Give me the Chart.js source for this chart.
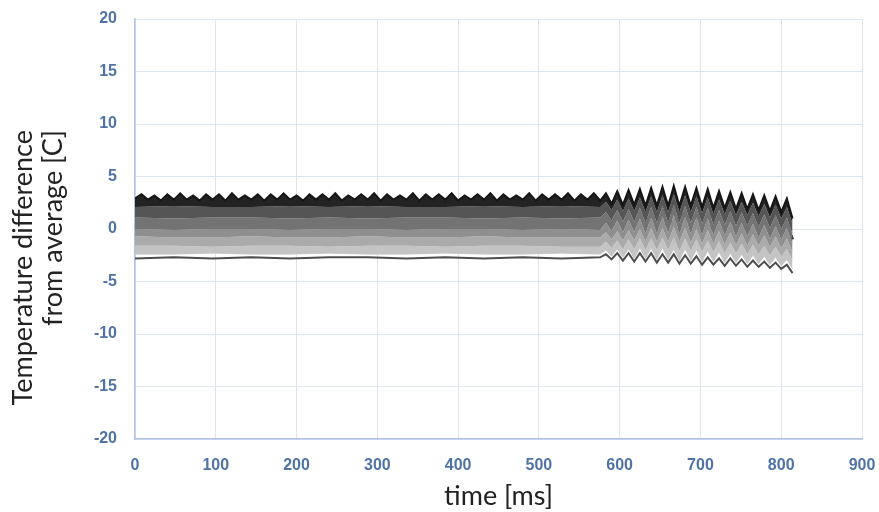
<!DOCTYPE html>
<html>
<head>
<meta charset="utf-8">
<script src="https://cdn.jsdelivr.net/npm/chart.js@4.4.1/dist/chart.umd.min.js"></script>
<style>
    html, body { margin: 0; padding: 0; background: #fff; }
    #wrap { width: 879px; height: 512px; }
</style>
</head>
<body>
<div id="wrap"><canvas id="tempChart" width="879" height="512"></canvas></div>
<script>
// time axis samples [ms]
const tFine = [0,8,16,24,32,40,48,56,64,72,80,88,96,104,112,120,128,136,144,152,160,168,176,184,192,200,
    208,216,224,232,240,248,256,264,272,280,288,296,304,312,320,328,336,344,352,360,368,376,384,392,400,
    408,416,424,432,440,448,456,464,472,480,488,496,504,512,520,528,536,544,552,560,568,576,
    583,590,597,604,611,618,625,632,639,646,653,660,667,674,681,688,695,702,709,716,723,730,737,744,751,
    758,765,772,779,786,793,800,807,814];
const tCoarse = [0,48,96,144,192,240,288,336,384,432,480,528,576,
    583,590,597,604,611,618,625,632,639,646,653,660,667,674,681,688,695,702,709,716,723,730,737,744,751,
    758,765,772,779,786,793,800,807,814];

// top edge of the band (black sensor)
const edgeTop = [2.9,3.3,2.8,3.2,2.7,3.3,2.8,3.4,2.8,3.2,2.7,3.3,2.8,3.3,2.7,3.4,2.8,3.2,2.8,3.3,
    2.7,3.3,2.8,3.4,2.8,3.2,2.7,3.3,2.8,3.3,2.8,3.4,2.7,3.2,2.8,3.3,2.8,3.4,2.7,3.3,
    2.8,3.2,2.8,3.4,2.7,3.3,2.8,3.3,2.8,3.4,2.7,3.2,2.8,3.3,2.8,3.4,2.7,3.3,2.8,3.2,
    2.8,3.4,2.7,3.3,2.8,3.3,2.8,3.4,2.7,3.3,2.8,3.4,2.7,
    3.4,2.4,3.6,2.3,3.7,2.3,3.8,2.2,3.9,2.2,4.0,2.2,4.1,2.2,4.0,2.2,3.9,2.1,3.8,2.0,
    3.6,2.0,3.5,1.9,3.4,1.9,3.3,1.8,3.2,1.7,3.1,1.6,2.9,1.0];

// boundaries between the grey shades, top to bottom
const edge1 = [2.1,2.2,2.1,2.1,2.2,2.1,2.2,2.1,2.1,2.2,2.1,2.2,2.1,
    2.6,1.8,2.8,1.7,2.9,1.7,3.0,1.6,3.1,1.6,3.2,1.6,3.3,1.6,3.2,1.6,3.1,1.5,3.0,1.4,
    2.8,1.4,2.7,1.3,2.6,1.3,2.5,1.2,2.4,1.1,2.3,1.0,2.1,0.5];
const edge2 = [1.1,1.0,1.1,1.1,1.0,1.1,1.0,1.1,1.1,1.0,1.1,1.0,1.1,
    1.6,0.8,1.8,0.7,1.9,0.7,2.0,0.6,2.1,0.6,2.2,0.6,2.3,0.6,2.2,0.6,2.1,0.5,2.0,0.4,
    1.8,0.4,1.7,0.3,1.6,0.3,1.5,0.2,1.4,0.1,1.3,0.0,1.1,-0.5];
const edge3 = [0.0,-0.1,0.0,0.0,-0.1,0.0,0.0,-0.1,0.0,0.0,-0.1,0.0,-0.1,
    0.6,-0.2,0.8,-0.3,0.9,-0.3,1.0,-0.4,1.1,-0.4,1.2,-0.4,1.3,-0.4,1.2,-0.4,1.1,-0.5,1.0,-0.6,
    0.8,-0.6,0.7,-0.7,0.6,-0.7,0.5,-0.8,0.4,-0.9,0.3,-1.0,0.1,-1.5];
const edge4 = [-0.7,-0.8,-0.8,-0.7,-0.8,-0.8,-0.7,-0.8,-0.8,-0.7,-0.8,-0.8,-0.8,
    -0.3,-1.0,-0.2,-1.1,-0.1,-1.1,0.0,-1.2,0.1,-1.2,0.1,-1.2,0.2,-1.2,0.1,-1.3,0.0,-1.4,-0.1,-1.4,
    -0.2,-1.5,-0.3,-1.5,-0.4,-1.6,-0.5,-1.6,-0.6,-1.7,-0.7,-1.8,-0.9,-2.2];
const edge5 = [-1.6,-1.6,-1.7,-1.6,-1.6,-1.7,-1.6,-1.6,-1.7,-1.6,-1.6,-1.7,-1.7,
    -1.2,-1.8,-1.1,-1.9,-1.0,-1.9,-0.9,-2.0,-0.9,-2.0,-0.8,-2.0,-0.8,-2.1,-0.9,-2.1,-1.0,-2.2,-1.1,-2.2,
    -1.2,-2.3,-1.3,-2.3,-1.4,-2.4,-1.5,-2.4,-1.6,-2.5,-1.7,-2.6,-1.9,-3.0];
const edge6 = [-2.4,-2.4,-2.3,-2.4,-2.4,-2.3,-2.4,-2.4,-2.3,-2.4,-2.4,-2.3,-2.4,
    -2.0,-2.6,-1.9,-2.7,-1.9,-2.8,-1.8,-2.8,-1.8,-2.9,-1.8,-2.9,-1.9,-3.0,-1.9,-3.0,-2.0,-3.1,-2.1,-3.1,
    -2.2,-3.2,-2.3,-3.2,-2.4,-3.3,-2.5,-3.3,-2.6,-3.4,-2.7,-3.5,-2.9,-3.8];

// darker dashed sensor inside the band and the lowest sensor
const midDashed = [0.8,0.8,0.7,0.8,0.8,0.7,0.8,0.8,0.7,0.8,0.8,0.7,0.8,
    1.1,0.3,1.3,0.2,1.4,0.2,1.5,0.1,1.6,0.1,1.7,0.1,1.8,0.1,1.7,0.1,1.6,0.0,1.5,-0.1,
    1.3,-0.1,1.2,-0.2,1.1,-0.2,1.0,-0.3,0.9,-0.4,0.8,-0.5,0.6,-1.0];
const bottomLine = [-2.8,-2.7,-2.8,-2.7,-2.8,-2.7,-2.7,-2.8,-2.7,-2.8,-2.7,-2.8,-2.7,
    -2.4,-2.9,-2.3,-3.0,-2.3,-3.1,-2.3,-3.1,-2.3,-3.2,-2.4,-3.2,-2.4,-3.3,-2.5,-3.3,-2.6,-3.4,-2.7,-3.4,
    -2.8,-3.5,-2.8,-3.5,-2.9,-3.6,-3.0,-3.6,-3.1,-3.7,-3.2,-3.8,-3.4,-4.2];

const xTicks = [0, 100, 200, 300, 400, 500, 600, 700, 800, 900];
const yTicks = [-20, -15, -10, -5, 0, 5, 10, 15, 20];

const tickColor = '#4f73a6';
const gridColor = '#dde5f1';
const axisColor = '#aec3e3';
const tickFont = { family: '"Liberation Sans Narrow", "Liberation Sans", sans-serif', size: 16, weight: 'bold' };

function pts(times, values) {
    return values.map((v, i) => ({ x: times[i], y: v }));
}

function band(times, values, fillColor, lineColor, width) {
    return {
        data: pts(times, values),
        borderColor: lineColor || 'rgba(0,0,0,0)',
        borderWidth: width || 1,
        backgroundColor: fillColor,
        fill: fillColor ? '+1' : false,
        pointRadius: 0,
        tension: 0
    };
}

const yTitle = {
    id: 'yTitle',
    afterDraw(chart) {
        const ctx = chart.ctx;
        const lines = ['Temperature difference', 'from average [C]'];
        const xs = [23, 53];
        ctx.save();
        ctx.fillStyle = '#222';
        ctx.font = '27px Lato';
        ctx.textAlign = 'right';
        ctx.textBaseline = 'middle';
        lines.forEach((txt, i) => {
            ctx.save();
            ctx.translate(xs[i], 130);
            ctx.rotate(-Math.PI / 2);
            ctx.fillText(txt, 0, 0);
            ctx.restore();
        });
        ctx.restore();
    }
};

const ctx = document.getElementById('tempChart').getContext('2d');
new Chart(ctx, {
    type: 'line',
    data: {
        datasets: [
            band(tFine, edgeTop, '#232323', '#161616', 2),
            band(tCoarse, edge1, '#555555'),
            band(tCoarse, edge2, '#737373'),
            band(tCoarse, edge3, '#8f8f8f'),
            band(tCoarse, edge4, '#aaaaaa'),
            band(tCoarse, edge5, '#c4c4c4'),
            band(tCoarse, edge6, null, '#d6d6d6', 1),
            Object.assign(band(tCoarse, midDashed, null, '#2b2b2b', 3), { borderDash: [5, 6] }),
            band(tCoarse, bottomLine, null, '#4d4d4d', 2)
        ]
    },
    options: {
        responsive: false,
        animation: false,
        layout: { padding: { top: 19, right: 17, left: 0, bottom: 0 } },
        plugins: {
            legend: { display: false },
            tooltip: { enabled: false }
        },
        scales: {
            x: {
                type: 'linear',
                min: 0,
                max: 900,
                afterBuildTicks: (scale) => { scale.ticks = xTicks.map(v => ({ value: v })); },
                afterFit: (scale) => {
                    scale.height = 73;
                    scale.paddingLeft = 0;
                    scale.paddingRight = 0;
                },
                grid: { color: gridColor, drawTicks: false },
                border: { color: axisColor, width: 1.5 },
                ticks: { padding: 17, color: tickColor, font: tickFont },
                title: {
                    display: true,
                    text: 'time [ms]',
                    color: '#222',
                    padding: { top: 0, bottom: 0 },
                    font: { family: 'Lato', size: 27 }
                }
            },
            y: {
                min: -20,
                max: 20,
                afterBuildTicks: (scale) => { scale.ticks = yTicks.map(v => ({ value: v })); },
                afterFit: (scale) => {
                    scale.width = 135;
                    scale.paddingTop = 0;
                    scale.paddingBottom = 0;
                },
                grid: { color: gridColor, drawTicks: false },
                border: { color: axisColor, width: 1.5 },
                ticks: { padding: 18, color: tickColor, font: tickFont }
            }
        }
    },
    plugins: [yTitle]
});
</script>
</body>
</html>
